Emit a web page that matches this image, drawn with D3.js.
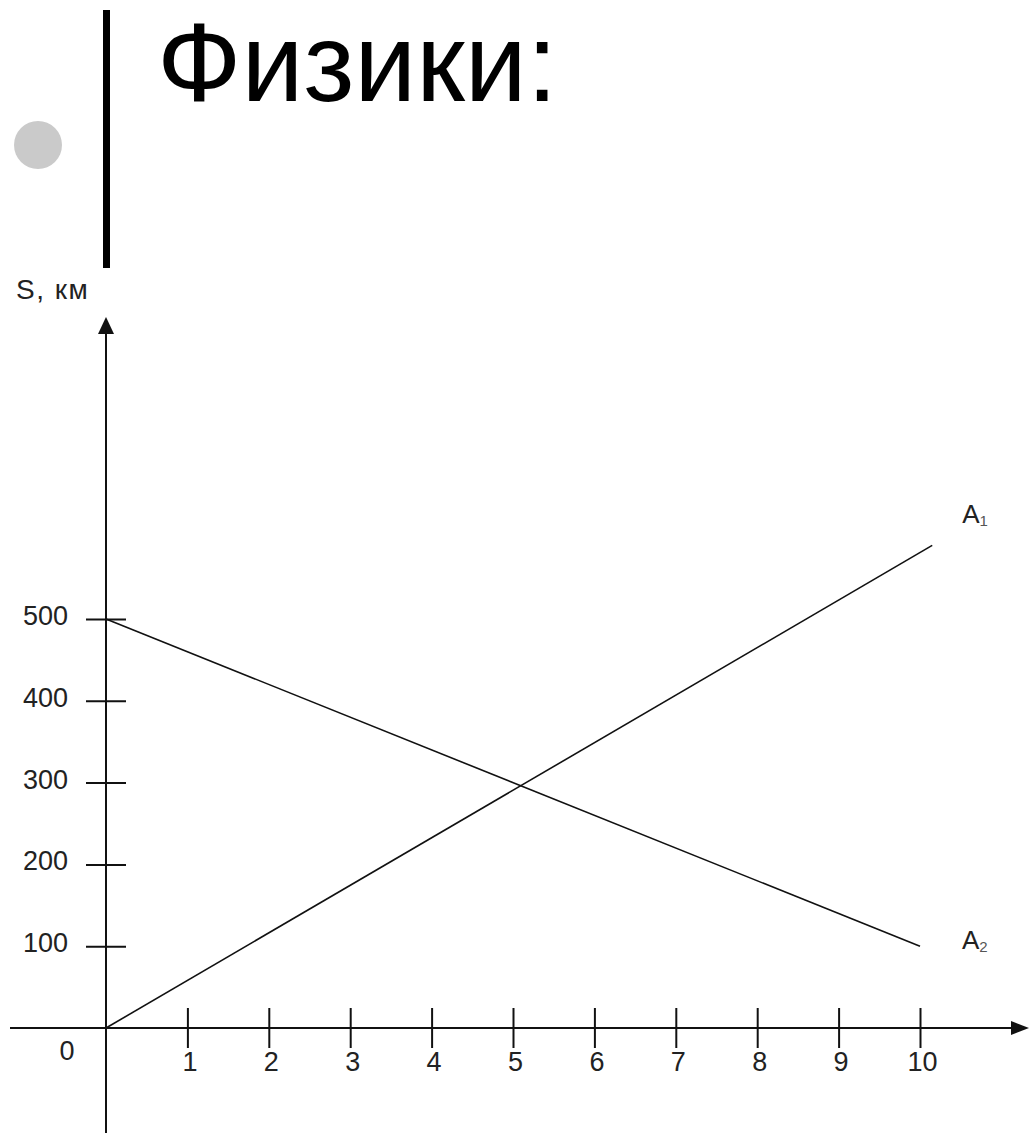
<!DOCTYPE html>
<html>
<head>
<meta charset="utf-8">
<script src="https://cdn.jsdelivr.net/npm/d3@7"></script>
<style>
  html, body { margin: 0; padding: 0; background: #fff; }
  svg { display: block; font-family: "Liberation Sans", Arial, sans-serif; }
</style>
</head>
<body>
<div id="chart"></div>
<script>
const title = 'Физики:';
const yLabel = 'S, км';
const xTicks = [1, 2, 3, 4, 5, 6, 7, 8, 9, 10];
const yTicks = [100, 200, 300, 400, 500];
// t in hours, s in km
const seriesA1 = [{ t: 0, s: 0 }, { t: 10.15, s: 590 }];
const seriesA2 = [{ t: 0, s: 500 }, { t: 10, s: 100 }];
const seriesNames = ['A', 'A'];
const seriesSubs = ['1', '2'];

const W = 1029;
const H = 1133;

const svg = d3.select('#chart')
  .append('svg')
  .attr('width', W)
  .attr('height', H);

// slide header: bullet, bar and title
svg.append('circle')
  .attr('cx', 38).attr('cy', 145).attr('r', 24)
  .style('fill', '#cacaca');

svg.append('rect')
  .attr('x', 103).attr('y', 10).attr('width', 7).attr('height', 258)
  .style('fill', '#000');

svg.append('text')
  .attr('x', 157).attr('y', 101)
  .style('font-size', '111px')
  .style('fill', '#000')
  .text(title);

// scales
const x = d3.scaleLinear().domain([0, 10]).range([106, 920]);
const y = d3.scaleLinear().domain([0, 500]).range([1028, 619]);

const axisColor = '#111';

// axis lines with arrows
svg.append('line')
  .attr('x1', x(0)).attr('x2', x(0))
  .attr('y1', 330).attr('y2', H)
  .style('stroke', axisColor).style('stroke-width', 2);
svg.append('path')
  .attr('d', `M${x(0)},317 L${x(0) - 8},334 L${x(0) + 8},334 Z`)
  .style('fill', axisColor);

svg.append('line')
  .attr('x1', 10).attr('x2', 1015)
  .attr('y1', y(0)).attr('y2', y(0))
  .style('stroke', axisColor).style('stroke-width', 2);
svg.append('path')
  .attr('d', `M1029,${y(0)} L1011,${y(0) - 7} L1011,${y(0) + 7} Z`)
  .style('fill', axisColor);

// x axis ticks (crossing the axis)
svg.append('g')
  .attr('transform', `translate(0,${y(0) - 20})`)
  .call(d3.axisBottom(x).tickValues(xTicks).tickSize(40).tickPadding(4))
  .call((g) => g.select('.domain').remove())
  .call((g) => g.selectAll('line').style('stroke', axisColor).style('stroke-width', 2))
  .call((g) => g.selectAll('text')
    .style('font-size', '27px')
    .style('font-family', '"Liberation Sans", Arial, sans-serif')
    .style('fill', '#222')
    .attr('dx', 2));

// y axis ticks
svg.append('g')
  .attr('transform', `translate(${x(0) + 20},0)`)
  .call(d3.axisLeft(y).tickValues(yTicks).tickSize(40).tickPadding(18))
  .call((g) => g.select('.domain').remove())
  .call((g) => g.selectAll('line').style('stroke', axisColor).style('stroke-width', 2))
  .call((g) => g.selectAll('text')
    .style('font-size', '27px')
    .style('font-family', '"Liberation Sans", Arial, sans-serif')
    .style('fill', '#222')
    .attr('dy', '0.2em'));

// origin label and axis title
svg.append('text')
  .attr('x', 67).attr('y', 1060)
  .attr('text-anchor', 'middle')
  .style('font-size', '27px').style('fill', '#222')
  .text('0');

svg.append('text')
  .attr('x', 16).attr('y', 299)
  .style('font-size', '28px').style('letter-spacing', '1.5px').style('fill', '#222')
  .text(yLabel);

// motion lines
const line = d3.line().x((d) => x(d.t)).y((d) => y(d.s));

const labelPos = [{ dx: 30, dy: -22 }, { dx: 42, dy: 3 }];

[seriesA1, seriesA2].forEach((series, i) => {
  svg.append('path')
    .datum(series)
    .attr('d', line)
    .style('fill', 'none')
    .style('stroke', '#111')
    .style('stroke-width', 1.6);

  const last = series[series.length - 1];
  const label = svg.append('text')
    .attr('x', x(last.t) + labelPos[i].dx)
    .attr('y', y(last.s) + labelPos[i].dy)
    .style('font-size', '26px').style('fill', '#222');
  label.append('tspan').text(seriesNames[i]);
  label.append('tspan')
    .attr('dy', 3)
    .style('font-size', '15px')
    .style('fill', '#555')
    .text(seriesSubs[i]);
});
</script>
</body>
</html>
